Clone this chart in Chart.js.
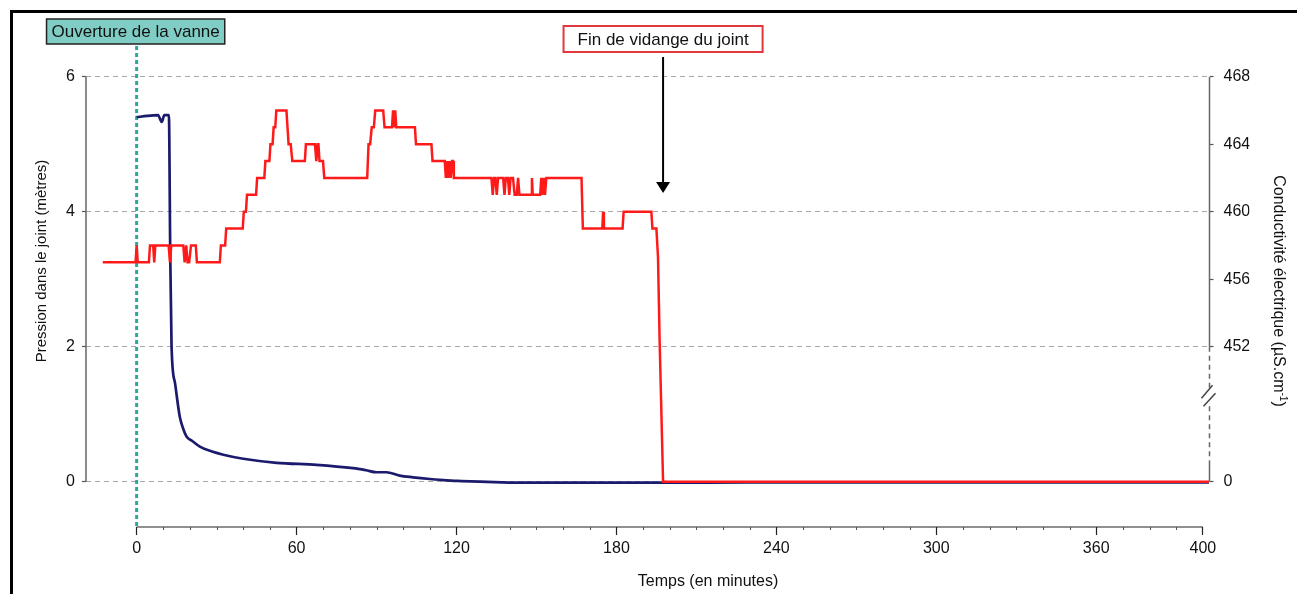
<!DOCTYPE html>
<html lang="fr">
<head>
<meta charset="utf-8">
<title>Pression dans le joint et conductivité</title>
<script src="https://cdn.jsdelivr.net/npm/chart.js@4.4.1/dist/chart.umd.min.js"></script>
<style>
    html, body { margin: 0; padding: 0; background: #fff; }
    #wrap { width: 1297px; height: 594px; }
</style>
</head>
<body>
<div id="wrap"><canvas id="chart" width="1297" height="594"></canvas></div>
<script>
(function () {
    'use strict';

    // time axis (minutes)
    const timeTicks = [0, 60, 120, 180, 240, 300, 360, 400];
    const timeTickLabels = ['0', '60', '120', '180', '240', '300', '360', '400'];

    // pressure in the joint (m)
    const pressureTicks = [0, 2, 4, 6];
    const pressureTime = [
        0, 4, 8, 9.4, 10.4, 12.1, 12.6, 13.1, 14.4, 15.6,
        16.2, 17.5, 18.7, 21, 23.7, 28, 32.5, 40, 52.5, 67.5,
        81.2, 86, 90, 93.7, 98.7, 103.7, 110, 116.2, 122, 128.7,
        137, 145, 170, 197, 230, 280, 340, 402.3
    ];
    const pressureValues = [
        5.40, 5.42, 5.43, 5.33, 5.43, 5.43, 3.40, 2.00, 1.46, 1.11,
        0.96, 0.78, 0.67, 0.60, 0.52, 0.45, 0.40, 0.34, 0.28, 0.25,
        0.20, 0.17, 0.14, 0.14, 0.09, 0.065, 0.04, 0.02, 0.01, 0.0,
        -0.01, -0.015, -0.015, -0.015, -0.01, -0.01, -0.01, -0.01
    ];

    // electrical conductivity (µS/cm)
    const condTicks = [0, 452, 456, 460, 464, 468];
    const condTime = [
        -12.7, -0.4, 0, 0.4,
        4.6, 5.0, 6.2, 6.6, 7.0,
        12.0, 12.5, 13.0,
        17.5, 18.0, 18.6, 19.1, 19.7, 20.4, 22.2, 22.6,
        31.2, 31.6, 33.2, 33.6, 39.8, 40.2, 41.0, 41.4, 44.8, 45.2, 47.9, 48.3, 49.8, 50.2, 51.0, 51.4, 52.0, 52.4,
        56.2, 57.0, 57.8, 58.4, 63.1, 63.5, 66.9, 67.4, 67.9, 68.2, 68.6, 69.9, 70.4,
        86.5, 87.0, 87.6, 88.2, 89.0, 89.5, 92.5, 93.0, 95.8, 96.2, 96.6, 97.0, 97.4,
        104.4, 104.8, 110.6, 111.0, 115.6, 116.0, 116.4, 116.8, 117.3, 117.8, 118.3, 118.7, 119.0,
        133.1, 133.6, 134.1, 134.6, 135.1, 135.6,
        137.5, 138.0, 138.5, 139.3, 139.8, 140.3,
        141.2, 141.8, 142.6, 143.1, 143.6, 148.0, 148.3, 148.6, 151.4, 151.8, 152.2, 152.7, 153.2, 153.7,
        166.9, 167.4, 174.7, 175.0, 175.3, 182.3, 182.7, 193.1, 193.5, 195.0, 195.6, 196.2, 197.5, 402.3
    ];
    const condValues = [
        457, 457, 458, 457,
        457, 458, 458, 457, 458,
        458, 457, 458,
        458, 457, 458, 457, 457, 458, 458, 457,
        457, 458, 458, 459, 459, 460, 460, 461, 461, 462, 462, 463, 463, 464, 464, 465, 465, 466,
        466, 464, 464, 463, 463, 464, 464, 463, 464, 464, 463, 463, 462,
        462, 464, 464, 465, 465, 466, 466, 465, 465, 466, 465, 466, 465,
        465, 464, 464, 463, 463, 462, 463, 462, 463, 462, 463, 463, 462,
        462, 461, 462, 462, 461, 462,
        462, 461, 462, 462, 461, 462,
        462, 461, 461, 462, 461, 461, 462, 461, 461, 462, 461, 462, 461, 462,
        462, 459, 459, 460, 459, 459, 460, 460, 459, 459, 457.3, 452.4, 0, 0
    ];

    const valveOpenTime = 0;
    const drainEndTime = 197.5;

    // the right axis is broken below 452: zero is drawn where 444 would be
    const COND_BREAK_BASE = 444;
    const COND_BREAK_AT = 449;
    const toBrokenAxis = v => (v < 452 ? COND_BREAK_BASE + v : v);

    const FONT = "'Liberation Sans', Arial, Helvetica, sans-serif";

    const pressurePoints = pressureTime.map((t, i) => ({ x: t, y: pressureValues[i] }));
    const condPoints = condTime.map((t, i) => ({ x: t, y: toBrokenAxis(condValues[i]) }));

    function drawBoxLabel(ctx, text, cx, cy, padX, h, fill, stroke, lw) {
        ctx.font = '17px ' + FONT;
        const w = ctx.measureText(text).width + padX * 2;
        ctx.fillStyle = fill;
        ctx.fillRect(cx - w / 2, cy - h / 2, w, h);
        ctx.strokeStyle = stroke;
        ctx.lineWidth = lw;
        ctx.strokeRect(cx - w / 2, cy - h / 2, w, h);
        ctx.fillStyle = '#111';
        ctx.textAlign = 'center';
        ctx.textBaseline = 'middle';
        ctx.fillText(text, cx, cy + 1);
    }

    const decor = {
        id: 'decor',
        beforeDraw(chart) {
            const { ctx, width, height } = chart;
            ctx.save();
            ctx.fillStyle = '#fff';
            ctx.fillRect(0, 0, width, height);
            // outer frame (only top and left are visible)
            ctx.fillStyle = '#000';
            ctx.fillRect(10, 10, width - 10, 3);
            ctx.fillRect(10, 10, 3, height - 10);
            ctx.restore();
        },
        beforeDatasetsDraw(chart) {
            const { ctx, scales, chartArea } = chart;
            const x = scales.x.getPixelForValue(valveOpenTime);
            ctx.save();
            ctx.strokeStyle = '#2ea79c';
            ctx.lineWidth = 3;
            ctx.setLineDash([4, 3]);
            ctx.beginPath();
            ctx.moveTo(x, 46);
            ctx.lineTo(x, chartArea.bottom);
            ctx.stroke();
            ctx.restore();
        },
        afterDraw(chart) {
            const { ctx, scales, chartArea } = chart;
            const sx = scales.x, sy = scales.y, sy2 = scales.y2;
            ctx.save();

            // left axis line (0 to 6 only)
            ctx.strokeStyle = '#666';
            ctx.lineWidth = 1.5;
            ctx.beginPath();
            ctx.moveTo(chartArea.left, sy.getPixelForValue(6));
            ctx.lineTo(chartArea.left, sy.getPixelForValue(0));
            ctx.stroke();

            // time axis line and minor ticks
            const yb = chartArea.bottom;
            ctx.strokeStyle = '#222';
            ctx.lineWidth = 1.2;
            ctx.beginPath();
            ctx.moveTo(sx.getPixelForValue(0), yb);
            ctx.lineTo(sx.getPixelForValue(400), yb);
            ctx.stroke();
            ctx.strokeStyle = '#555';
            ctx.lineWidth = 1;
            ctx.beginPath();
            for (let t = 10; t < 400; t += 10) {
                if (timeTicks.indexOf(t) !== -1) continue;
                const px = Math.round(sx.getPixelForValue(t)) + 0.5;
                ctx.moveTo(px, yb);
                ctx.lineTo(px, yb + 3);
            }
            ctx.stroke();

            // right (broken) axis
            const xr = chartArea.right;
            const yTop = sy2.getPixelForValue(468);
            const yMid = sy2.getPixelForValue(452);
            const yZero = sy2.getPixelForValue(toBrokenAxis(0));
            const yBrk = sy2.getPixelForValue(COND_BREAK_AT);
            ctx.strokeStyle = '#666';
            ctx.lineWidth = 1.5;
            ctx.beginPath();
            ctx.moveTo(xr, yTop);
            ctx.lineTo(xr, yMid);
            ctx.moveTo(xr, yZero - 21);
            ctx.lineTo(xr, yZero);
            ctx.stroke();
            ctx.setLineDash([5, 4]);
            ctx.beginPath();
            ctx.moveTo(xr, yMid);
            ctx.lineTo(xr, yBrk - 9);
            ctx.moveTo(xr, yBrk + 9);
            ctx.lineTo(xr, yZero - 21);
            ctx.stroke();
            ctx.setLineDash([]);
            ctx.strokeStyle = '#444';
            ctx.lineWidth = 1.5;
            ctx.beginPath();
            ctx.moveTo(xr - 8, yBrk + 1);
            ctx.lineTo(xr + 3, yBrk - 12);
            ctx.moveTo(xr - 6, yBrk + 9);
            ctx.lineTo(xr + 6, yBrk - 4);
            ctx.stroke();

            // annotations
            const x0 = sx.getPixelForValue(valveOpenTime);
            drawBoxLabel(ctx, 'Ouverture de la vanne', x0 - 1, 31.5, 5, 25, '#80cdc5', '#222', 1.5);
            const xd = sx.getPixelForValue(drainEndTime);
            drawBoxLabel(ctx, 'Fin de vidange du joint', xd, 39, 14, 26, '#fff', '#e0383d', 2);

            // arrow
            ctx.strokeStyle = '#000';
            ctx.fillStyle = '#000';
            ctx.lineWidth = 2;
            ctx.beginPath();
            ctx.moveTo(xd, 57);
            ctx.lineTo(xd, 185);
            ctx.stroke();
            ctx.beginPath();
            ctx.moveTo(xd - 7, 182);
            ctx.lineTo(xd + 7, 182);
            ctx.lineTo(xd, 193);
            ctx.closePath();
            ctx.fill();

            // axis titles
            ctx.fillStyle = '#111';
            ctx.textAlign = 'center';
            ctx.textBaseline = 'middle';
            ctx.font = '16px ' + FONT;
            ctx.fillText('Temps (en minutes)', 708, 582);

            ctx.save();
            ctx.translate(42, 261);
            ctx.rotate(-Math.PI / 2);
            ctx.font = '15px ' + FONT;
            ctx.fillText('Pression dans le joint (mètres)', 0, 0);
            ctx.restore();

            ctx.save();
            ctx.translate(1278, 291);
            ctx.rotate(Math.PI / 2);
            const main = 'Conductivité électrique (µS.cm';
            const sup = '-1';
            ctx.font = '16px ' + FONT;
            const wMain = ctx.measureText(main).width;
            const wClose = ctx.measureText(')').width;
            ctx.font = '10px ' + FONT;
            const wSup = ctx.measureText(sup).width;
            let px = -(wMain + wSup + wClose) / 2;
            ctx.textAlign = 'left';
            ctx.font = '16px ' + FONT;
            ctx.fillText(main, px, 0);
            px += wMain;
            ctx.font = '10px ' + FONT;
            ctx.fillText(sup, px, -5);
            px += wSup;
            ctx.font = '16px ' + FONT;
            ctx.fillText(')', px, 0);
            ctx.restore();

            ctx.restore();
        }
    };

    const tickFont = { family: FONT, size: 16 };

    const config = {
        type: 'line',
        data: {
            datasets: [
                {
                    label: 'Conductivité électrique',
                    data: condPoints,
                    yAxisID: 'y2',
                    borderColor: '#ff1a1a',
                    borderWidth: 2.5,
                    pointRadius: 0,
                    tension: 0,
                    fill: false
                },
                {
                    label: 'Pression dans le joint',
                    data: pressurePoints,
                    yAxisID: 'y',
                    borderColor: '#1b1a6c',
                    borderWidth: 2.7,
                    pointRadius: 0,
                    cubicInterpolationMode: 'monotone',
                    fill: false
                }
            ]
        },
        options: {
            responsive: false,
            animation: false,
            devicePixelRatio: 1,
            layout: { padding: { left: 46, right: 47.5, top: 76.7, bottom: 32 } },
            plugins: {
                legend: { display: false },
                tooltip: { enabled: false }
            },
            scales: {
                x: {
                    type: 'linear',
                    position: 'bottom',
                    min: -19,
                    max: 402.5,
                    afterBuildTicks: s => { s.ticks = timeTicks.map(v => ({ value: v })); },
                    afterFit: s => { s.height = 35; },
                    ticks: {
                        autoSkip: false,
                        maxRotation: 0,
                        padding: 4,
                        color: '#111',
                        font: tickFont,
                        callback: (v, i) => timeTickLabels[i]
                    },
                    grid: {
                        drawOnChartArea: false,
                        tickLength: 8,
                        tickColor: '#222',
                        tickWidth: 1.2
                    },
                    border: { display: false }
                },
                y: {
                    type: 'linear',
                    position: 'left',
                    min: -0.671,
                    max: 6,
                    afterBuildTicks: s => { s.ticks = pressureTicks.map(v => ({ value: v })); },
                    afterFit: s => { s.width = 40; },
                    ticks: {
                        padding: 7,
                        color: '#111',
                        font: tickFont,
                        callback: v => String(v)
                    },
                    grid: {
                        color: '#a8a8a8',
                        lineWidth: 1,
                        tickColor: '#555',
                        tickLength: 4,
                        tickWidth: 1.2,
                        tickBorderDash: []
                    },
                    // in Chart.js v4 the grid line dash lives under border
                    border: { display: false, dash: [5, 4] }
                },
                y2: {
                    type: 'linear',
                    position: 'right',
                    min: 441.316,
                    max: 468,
                    afterBuildTicks: s => { s.ticks = condTicks.map(v => ({ value: toBrokenAxis(v) })); },
                    afterFit: s => { s.width = 40; },
                    ticks: {
                        padding: 10,
                        color: '#111',
                        font: tickFont,
                        callback: (v, i) => String(condTicks[i])
                    },
                    grid: {
                        drawOnChartArea: false,
                        tickColor: '#555',
                        tickLength: 4,
                        tickWidth: 1.2
                    },
                    border: { display: false }
                }
            }
        },
        plugins: [decor]
    };

    const ctx = document.getElementById('chart').getContext('2d');
    new Chart(ctx, config);
})();
</script>
</body>
</html>
